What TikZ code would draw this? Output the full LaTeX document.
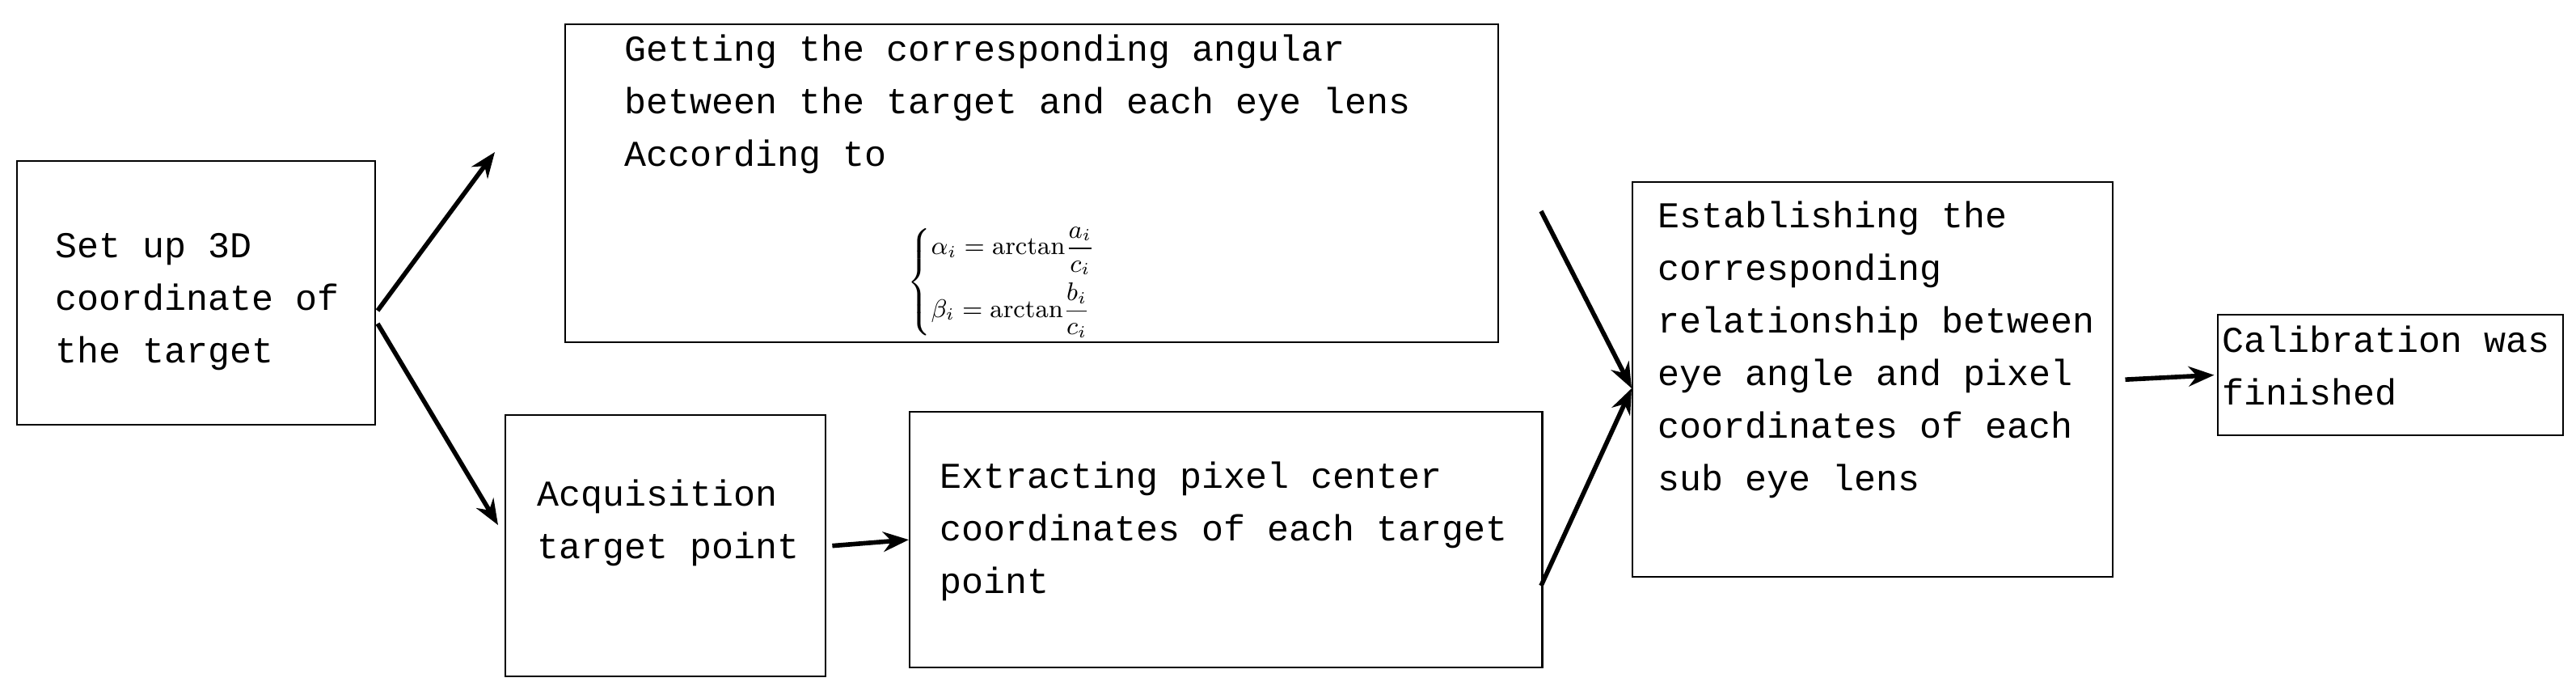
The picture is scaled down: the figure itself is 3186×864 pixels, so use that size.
\documentclass[tikz,border=0pt]{standalone}
\usepackage{amsmath}
\usepackage{fontspec}
\setmonofont{Liberation Mono}
\usetikzlibrary{arrows.meta}
\usetikzlibrary{positioning}
\tikzset{step box/.style={
    draw=black, semithick, rectangle, anchor=north west,
    inner sep=0pt, align=left,
    font=\ttfamily\fontsize{12.8}{18.5}\selectfont
}}
\tikzset{step text/.style={
    anchor=north west, inner sep=0pt, align=left,
    font=\ttfamily\fontsize{12.8}{18.5}\selectfont
}}
\tikzset{flow/.style={-{Stealth[length=9pt,width=7pt]}, line width=1.6pt}}

\begin{document}
\begin{tikzpicture}[x=0.01cm,y=-0.01cm]
            \useasboundingbox (0,0) rectangle (3186,864);

            \node (setup)  [step box, minimum width=4.43cm, minimum height=3.26cm] at(20,198)  {};
            \node (setupt) [step text] at(68,288) {Set up 3D\\coordinate of\\the target};
            \node (angle)  [step box, minimum width=11.53cm, minimum height=3.93cm] at(698,29)  {};
            \node (anglet) [step text] at(772,42) {Getting the corresponding angular\\between the target and each eye lens\\According to};
            \node (formula) [anchor=north west, inner sep=0pt, font=\small] at(1122,280)
              {$\begin{cases}\alpha_i=\mathrm{arctan}\dfrac{a_i}{c_i}\\[6pt]\beta_i=\mathrm{arctan}\dfrac{b_i}{c_i}\end{cases}$};
            \node (acq)    [step box, minimum width=3.96cm, minimum height=3.23cm] at(624,512) {};
            \node (acqt)   [step text] at(664,592) {Acquisition\\target point};
            \node (pix)    [step box, minimum width=7.82cm, minimum height=3.16cm] at(1124,508) {};
            \node (pixt)   [step text] at(1162,570) {Extracting pixel center\\coordinates of each target\\point};
            \node (rel)    [step box, minimum width=5.94cm, minimum height=4.88cm] at(2018,224) {};
            \node (relt)   [step text] at(2050,248) {Establishing the\\corresponding\\relationship between\\eye angle and pixel\\coordinates of each\\sub eye lens};
            \node (done)   [step box, minimum width=4.27cm, minimum height=1.49cm] at(2742,388) {};
            \node (donet)  [step text] at(2748,402) {Calibration was\\finished};

            \coordinate (up)    at(612,188);
            \coordinate (down)  at(616,649);
            \coordinate (fromA) at(1906,261);
            \coordinate (fromP) at(1906,724);
            \coordinate (inR)   at(2018,480);

            % edges
            \draw [flow] (467,384) -- (up);
            \draw [flow] (467,400) -- (down);
            \draw [flow] ([xshift=2pt]acq.east) -- (pix.west);
            \draw [flow] (fromA) -- (inR);
            \draw [flow] (fromP) -- (inR);
            \draw [flow] ([xshift=4pt]rel.east) -- ([xshift=-1pt]done.west);
        \end{tikzpicture}
\end{document}
